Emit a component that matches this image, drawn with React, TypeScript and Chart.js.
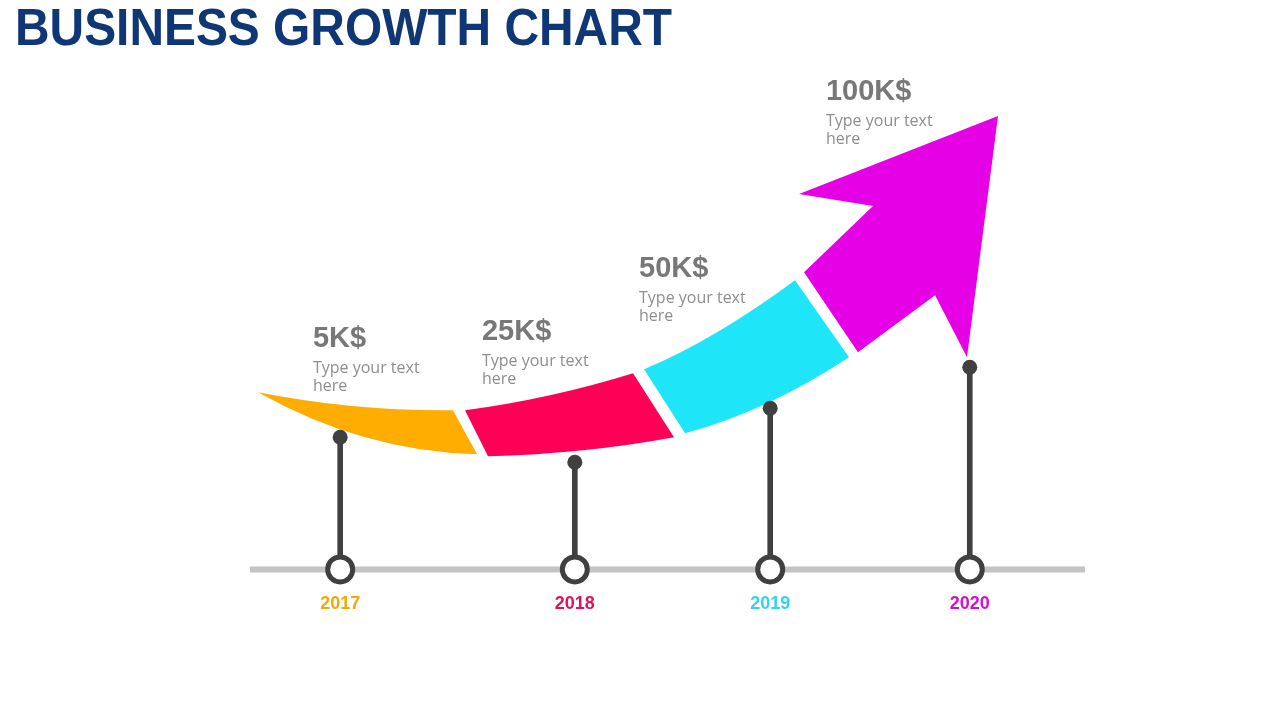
import { useEffect, useRef } from "react";
import Chart from "chart.js/auto";

// chart values
const years = ["2017", "2018", "2019", "2020"];
const values = [5, 25, 50, 100]; // K$
const yearColors = ["#F2AA00", "#E0115F", "#33D3EF", "#D010D0"];
const bandColors = ["#FFAD00", "#FF0057", "#1EE6F8", "#E500E5"];

// stems: place on the timeline (x) and height of the stem top (y)
const stemX = [10.8, 38.9, 62.3, 86.2];
const stemTop = [26.4, 21.4, 32.2, 40.4];

// curved band pieces, [start, middle, end] of the upper and the lower edge
const bandUpper = [
  [[0.96, 35.4], [12.57, 32.6], [24.31, 31.8]],
  [[25.75, 31.8], [35.93, 34.8], [45.87, 39.2]],
  [[47.19, 40.0], [55.93, 47.4], [65.27, 57.8]],
];
const bandLower = [
  [[0.96, 35.4], [13.77, 26.4], [27.19, 23.0]],
  [[28.5, 22.6], [39.88, 23.8], [50.78, 26.4]],
  [[52.1, 27.2], [61.92, 33.2], [71.74, 42.4]],
];
// arrow head outline
const arrowHead = [
  [72.81, 43.4], [66.35, 59.4], [74.61, 72.6], [65.75, 75.0],
  [89.58, 90.6], [85.87, 42.4], [82.04, 54.8],
];

// where the value captions sit
const labelX = [7.54, 27.78, 46.59, 68.98];
const labelY = [44.4, 45.8, 58.4, 93.8];

const TITLE = "BUSINESS GROWTH CHART";
const DESC = ["Type your text", "here"];

type Pt = number[];

function curveTo(ctx: CanvasRenderingContext2D, a: Pt, m: Pt, b: Pt) {
  // quadratic passing through the middle point
  const cx = 2 * m[0] - (a[0] + b[0]) / 2;
  const cy = 2 * m[1] - (a[1] + b[1]) / 2;
  ctx.quadraticCurveTo(cx, cy, b[0], b[1]);
}

const growthPlugin = {
  id: "growth",
  beforeDatasetsDraw(chart: any) {
    const { ctx, scales } = chart;
    const px = (p: Pt) => [scales.x.getPixelForValue(p[0]), scales.y.getPixelForValue(p[1])];
    ctx.save();
    bandUpper.forEach((up, i) => {
      const [a, m, b] = up.map(px);
      const [c, n, d] = bandLower[i].map(px);
      ctx.beginPath();
      ctx.moveTo(a[0], a[1]);
      curveTo(ctx, a, m, b);
      ctx.lineTo(d[0], d[1]);
      curveTo(ctx, d, n, c);
      ctx.closePath();
      ctx.fillStyle = bandColors[i];
      ctx.fill();
    });
    ctx.beginPath();
    arrowHead.map(px).forEach((p, i) => (i ? ctx.lineTo(p[0], p[1]) : ctx.moveTo(p[0], p[1])));
    ctx.closePath();
    ctx.fillStyle = bandColors[3];
    ctx.fill();
    ctx.restore();
  },
  afterDraw(chart: any) {
    const { ctx, scales } = chart;
    ctx.save();
    ctx.textAlign = "left";
    ctx.textBaseline = "alphabetic";
    ctx.fillStyle = "#0F3675";
    ctx.font = "bold 52px 'Liberation Sans', Arial, sans-serif";
    ctx.fillText(TITLE, 15, 45, 657);

    values.forEach((v, i) => {
      const x = scales.x.getPixelForValue(labelX[i]);
      const y = scales.y.getPixelForValue(labelY[i]);
      ctx.fillStyle = "#787878";
      ctx.font = "bold 29px 'Liberation Sans', Arial, sans-serif";
      ctx.fillText(`${v}K$`, x, y);
      ctx.fillStyle = "#8E8E8E";
      ctx.font = "16px 'Open Sans', sans-serif";
      ctx.fillText(DESC[0], x, y + 26);
      ctx.fillText(DESC[1], x, y + 44);
    });
    ctx.restore();
  },
};

export default function App() {
  const canvasRef = useRef<HTMLCanvasElement | null>(null);
  const chartRef = useRef<Chart | null>(null);

  useEffect(() => {
    if (!canvasRef.current) return;
    chartRef.current?.destroy();

    const tops = stemX.map((x, i) => ({ x, y: stemTop[i] }));

    chartRef.current = new Chart(canvasRef.current, {
      type: "scatter",
      data: {
        datasets: [
          {
            type: "scatter",
            label: "base",
            data: stemX.map((x) => ({ x, y: 0 })),
            pointRadius: 12.5,
            pointBackgroundColor: "#ffffff",
            pointBorderColor: "#404040",
            pointBorderWidth: 5,
            order: 0,
            clip: false,
          },
          {
            type: "scatter",
            label: "top",
            data: tops,
            pointRadius: 7.5,
            pointBackgroundColor: "#404040",
            pointBorderWidth: 0,
            order: 1,
            clip: false,
          },
          {
            type: "bar",
            label: "stem",
            data: tops,
            backgroundColor: "#404040",
            barThickness: 5,
            order: 2,
          },
          {
            type: "line",
            label: "timeline",
            data: [
              { x: 0, y: 0 },
              { x: 100, y: 0 },
            ],
            borderColor: "#C4C4C4",
            borderWidth: 6,
            pointRadius: 0,
            order: 3,
            clip: false,
          },
        ],
      } as any,
      options: {
        animation: false,
        responsive: true,
        maintainAspectRatio: false,
        events: [],
        layout: { padding: { left: 250, right: 195, top: 69, bottom: 81 } },
        plugins: {
          legend: { display: false },
          tooltip: { enabled: false },
        },
        scales: {
          x: {
            type: "linear",
            min: 0,
            max: 100,
            offset: false,
            grid: { display: false, drawTicks: false },
            border: { display: false },
            afterBuildTicks: (axis: any) => {
              axis.ticks = stemX.map((value) => ({ value }));
            },
            ticks: {
              autoSkip: false,
              maxRotation: 0,
              padding: 24,
              font: { family: "'Liberation Sans', Arial, sans-serif", size: 18, weight: "bold" },
              color: (c: any) => yearColors[c.index],
              callback: (_v: any, i: number) => years[i],
            },
          },
          y: { type: "linear", min: 0, max: 100, display: false },
        },
      } as any,
      plugins: [growthPlugin],
    });

    return () => {
      chartRef.current?.destroy();
      chartRef.current = null;
    };
  }, []);

  return (
    <div style={{ position: "fixed", left: 0, top: 0, width: 1280, height: 720, background: "#fff" }}>
      <canvas ref={canvasRef} />
    </div>
  );
}
